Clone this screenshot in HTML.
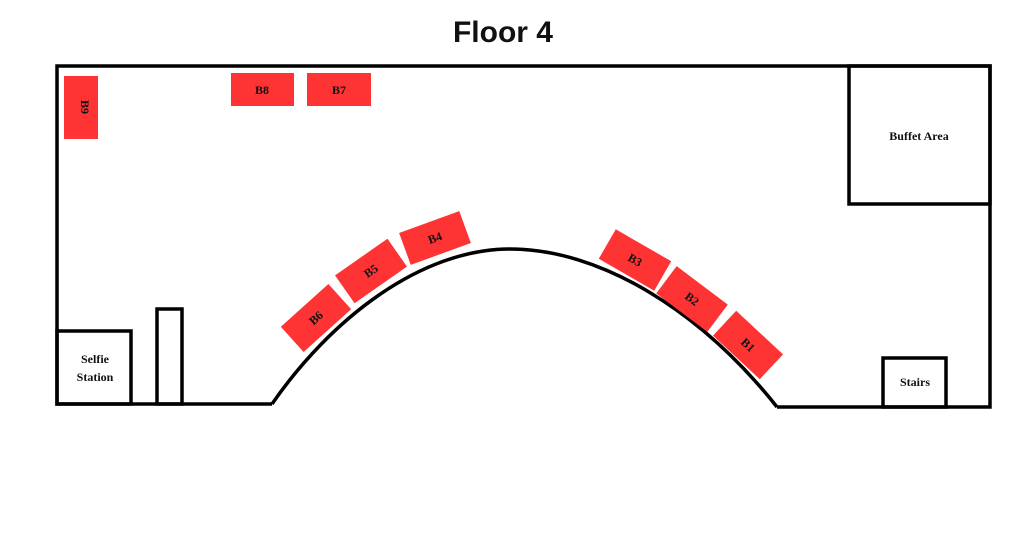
<!DOCTYPE html>
<html><head><meta charset="utf-8"><style>
html,body{margin:0;padding:0;background:#fff;width:1024px;height:558px;overflow:hidden}
svg text{font-family:"Liberation Serif",serif;font-weight:bold;fill:#111}
</style></head><body>
<svg width="1024" height="558" viewBox="0 0 1024 558" xmlns="http://www.w3.org/2000/svg">
<text x="503" y="42" font-size="30" text-anchor="middle" style="font-family:'Liberation Sans',sans-serif;font-weight:900">Floor 4</text>
<g fill="none" stroke="#000" stroke-width="3.5">
<path d="M272,404 L57,404 L57,66 L990,66 L990,407 L777,407"/>
<path d="M272,404 C330,320 420,249 510,249 C600,249 700,310 777,407"/>
<rect x="57" y="331" width="74" height="73"/>
<rect x="157" y="309" width="25" height="95"/>
<rect x="849" y="66" width="141" height="138"/>
<rect x="883" y="358" width="63" height="49"/>
</g>
<g fill="#fe3333">
<rect x="64" y="76" width="34" height="63"/>
<rect x="231" y="73" width="63" height="33"/>
<rect x="307" y="73" width="64" height="33"/>
<g transform="translate(435,238) rotate(-20)"><rect x="-32" y="-17" width="64" height="34"/></g>
<g transform="translate(371,271) rotate(-35)"><rect x="-32" y="-17" width="64" height="34"/></g>
<g transform="translate(316,318) rotate(-42)"><rect x="-32" y="-17" width="64" height="34"/></g>
<g transform="translate(635,260) rotate(30)"><rect x="-32" y="-17" width="64" height="34"/></g>
<g transform="translate(692,299) rotate(37)"><rect x="-32" y="-17" width="64" height="34"/></g>
<g transform="translate(748,345) rotate(43)"><rect x="-32" y="-17" width="64" height="34"/></g>
</g>
<g font-size="12" text-anchor="middle">
<text transform="translate(85,107) rotate(90)" y="4">B9</text>
<text x="262" y="94">B8</text>
<text x="339" y="94">B7</text>
<text transform="translate(435,238) rotate(-20)" y="4">B4</text>
<text transform="translate(371,271) rotate(-35)" y="4">B5</text>
<text transform="translate(316,318) rotate(-42)" y="4">B6</text>
<text transform="translate(635,260) rotate(30)" y="4">B3</text>
<text transform="translate(692,299) rotate(37)" y="4">B2</text>
<text transform="translate(748,345) rotate(43)" y="4">B1</text>
<text x="919" y="140">Buffet Area</text>
<text x="915" y="386">Stairs</text>
<text x="95" y="363">Selfie</text>
<text x="95" y="381">Station</text>
</g>
</svg>
</body></html>
